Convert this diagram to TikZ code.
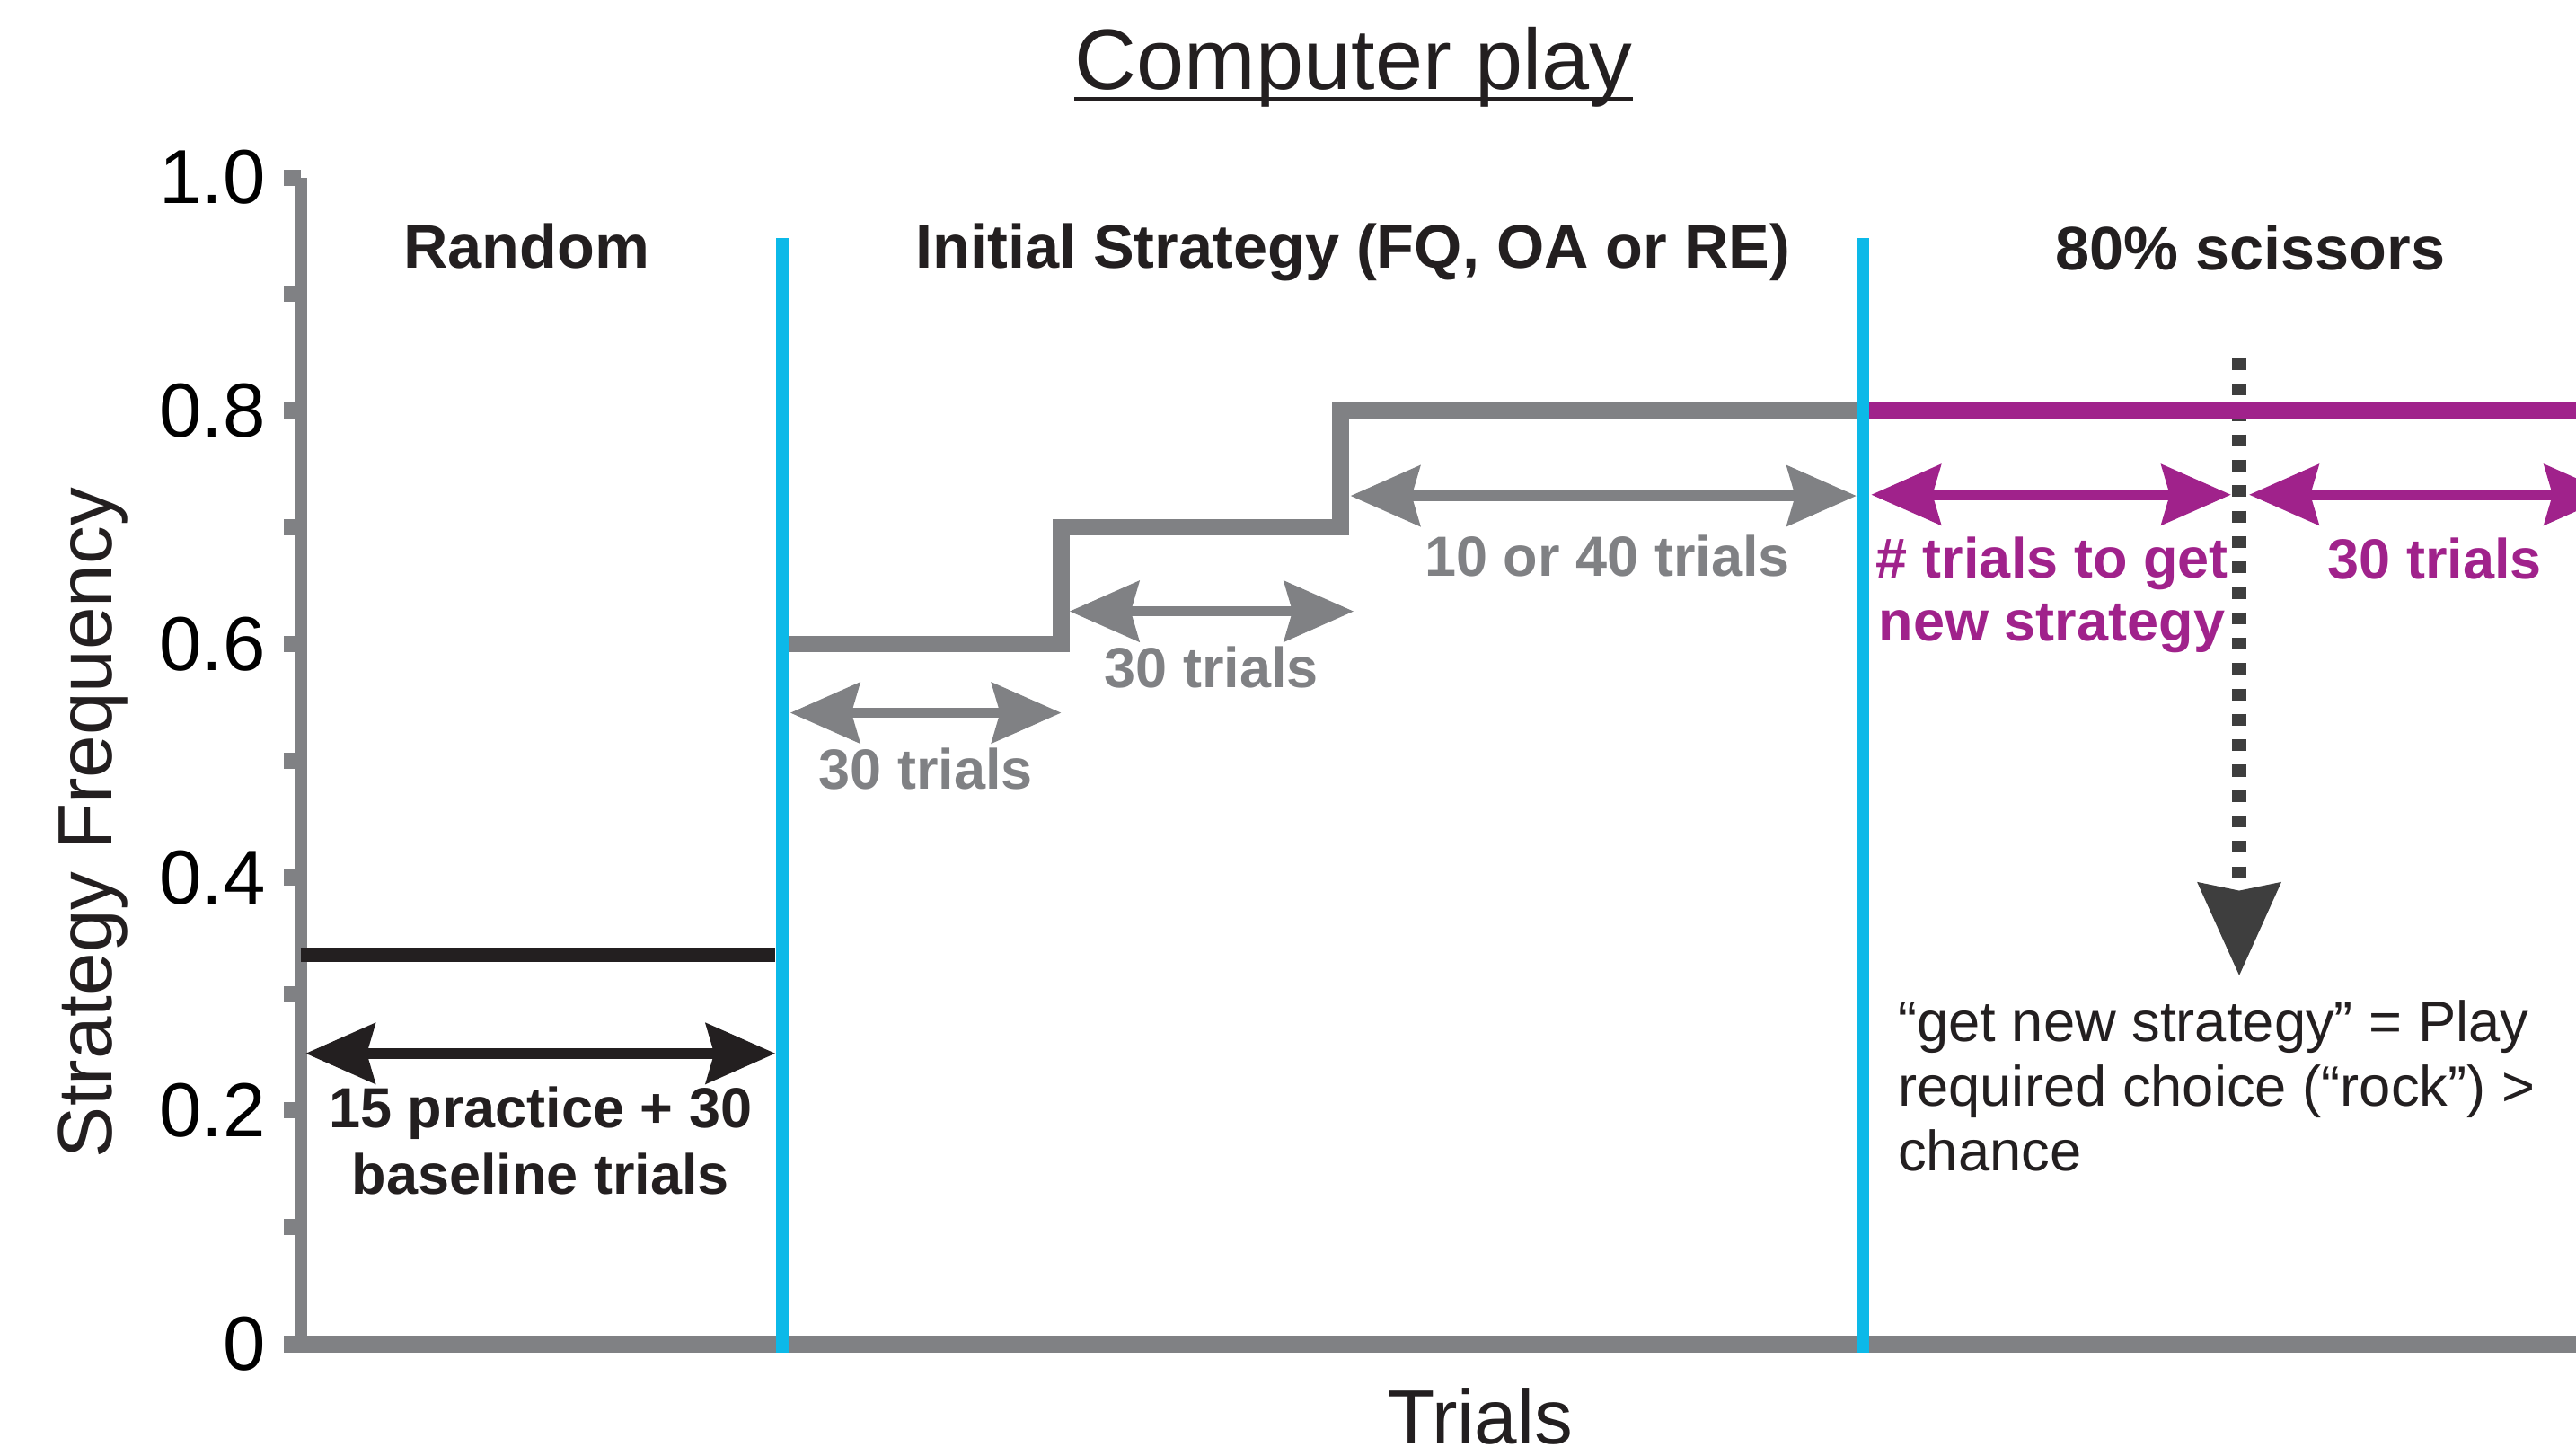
\documentclass[tikz,border=0pt]{standalone}
\usepackage{fontspec}
\setmainfont{Liberation Sans}
\usetikzlibrary{arrows.meta, positioning}

\definecolor{axisgray}{RGB}{128,129,132}
\definecolor{phaseblue}{RGB}{12,185,232}
\definecolor{rockpurple}{RGB}{160,34,139}
\definecolor{dotgray}{RGB}{62,62,62}
\definecolor{ink}{RGB}{35,31,32}

\begin{document}
\begin{tikzpicture}[x=0.2mm, y=14.2cm,
		>={Stealth[length=24pt, width=20.7pt, inset=2.8pt]},
		axisline/.style={axisgray, line width=5.9pt},
		tickmark/.style={axisgray, line width=5.6pt},
		ticklabel/.style={anchor=east, inner sep=0pt, text=black, font=\fontsize{26.5}{30}\selectfont},
		axislabel/.style={anchor=base, inner sep=0pt, text=ink, font=\fontsize{26.6}{30}\selectfont},
		phase/.style={phaseblue, line width=4.3pt},
		stepline/.style={line width=5.75pt, line join=miter},
		spanarrow/.style={<->, line width=3.6pt},
		phasetitle/.style={anchor=base, inner sep=0pt, text=ink, font=\fontsize{21.3}{25}\selectfont\bfseries},
		lbl/.style={anchor=base, inner sep=0pt, align=center, font=\fontsize{19.6}{21.6}\selectfont\bfseries},
		note/.style={anchor=base west, inner sep=0pt, align=left, text=ink, font=\fontsize{19.7}{22.3}\selectfont}]
	\useasboundingbox (0,-0.0958) rectangle (1568,1.1521);
	\clip (0,-0.0958) rectangle (1568,1.1521);

	\node[anchor=base, inner sep=0pt, text=ink, font=\fontsize{29.7}{34}\selectfont] (title) at (824,1.0751) {Computer play};
	\draw[ink, line width=1.6pt] ([yshift=-3.3pt]title.base west) -- ([yshift=-3.3pt]title.base east);

	% axes and ticks
	\draw[axisline] (173,0) -- (1568,0);
	\draw[axisline, line width=4.3pt] (183,0) -- (183,1);
	\foreach \k in {1,...,10}
		\draw[tickmark] (173,\k/10) -- (183,\k/10);
	\foreach \k/\t in {0/0, 1/0.2, 2/0.4, 3/0.6, 4/0.8, 5/1.0}
		\node[ticklabel] (ylab\k) at (162,\k/5) {\t};
	\node[axislabel, rotate=90] (ylabel) at (68.3,0.4468) {Strategy Frequency};
	\node[axislabel] (xlabel) at (901,-0.0859) {Trials};

	% strategy levels
	\draw[ink, line width=5pt] (183,1/3) -- (472,1/3);
	\coordinate (dtop) at (1363,0.845);
	\coordinate (dtip) at (1363,0.3155);
	\draw[dotgray, line width=4.9pt, dash pattern=on 4.1pt off 4.7pt, -{Stealth[length=32pt, width=28pt, inset=2.5pt]}] (dtop) -- (dtip);
	\draw[stepline, axisgray] (476,0.6) -- (646,0.6) -- (646,0.7) -- (816,0.7) -- (816,0.8) -- (1134,0.8);
	\draw[stepline, rockpurple] (1134,0.8) -- (1568,0.8);

	% phase borders
	\draw[phase] (476,-0.0073) -- (476,0.948);
	\draw[phase] (1134,-0.0073) -- (1134,0.948);

	\node[phasetitle] (random) at (320.5,0.9225) {Random};
	\node[phasetitle] (initial) at (823.5,0.9225) {Initial Strategy (FQ, OA or RE)};
	\node[phasetitle] (scissors) at (1369.7,0.921) {80\% scissors};

	% trial spans
	\coordinate (b1) at (186,0.249);
	\coordinate (b2) at (472,0.249);
	\coordinate (g1) at (481,0.541);
	\coordinate (g2) at (646,0.541);
	\coordinate (g3) at (651,0.628);
	\coordinate (g4) at (824,0.628);
	\coordinate (g5) at (822,0.727);
	\coordinate (g6) at (1130,0.727);
	\coordinate (p1) at (1139,0.728);
	\coordinate (p2) at (1358,0.728);
	\coordinate (p3) at (1369,0.728);
	\coordinate (p4) at (1591,0.728);
	\draw[spanarrow, ink] (b1) -- (b2);
	\draw[spanarrow, axisgray] (g1) -- (g2);
	\draw[spanarrow, axisgray] (g3) -- (g4);
	\draw[spanarrow, axisgray] (g5) -- (g6);
	\draw[spanarrow, rockpurple] (p1) -- (p2);
	\draw[spanarrow, rockpurple] (p3) -- (p4);

	\node[lbl, text=ink, font=\fontsize{19.6}{23.2}\selectfont\bfseries] (baseline) at (329,0.128) {15 practice + 30\\baseline trials};
	\node[lbl, text=axisgray] (firstthirty) at (563.5,0.476) {30 trials};
	\node[lbl, text=axisgray] (secondthirty) at (737.3,0.563) {30 trials};
	\node[lbl, text=axisgray] (tenforty) at (978.4,0.658) {10 or 40 trials};
	\node[lbl, text=rockpurple] (untilnew) at (1249,0.603) {\# trials to get\\new strategy};
	\node[lbl, text=rockpurple] (lastthirty) at (1482,0.656) {30 trials};
	\node[note] (rule) at (1155,0.1486) {“get new strategy” = Play\\required choice (“rock”) >\\chance};
\end{tikzpicture}
\end{document}
